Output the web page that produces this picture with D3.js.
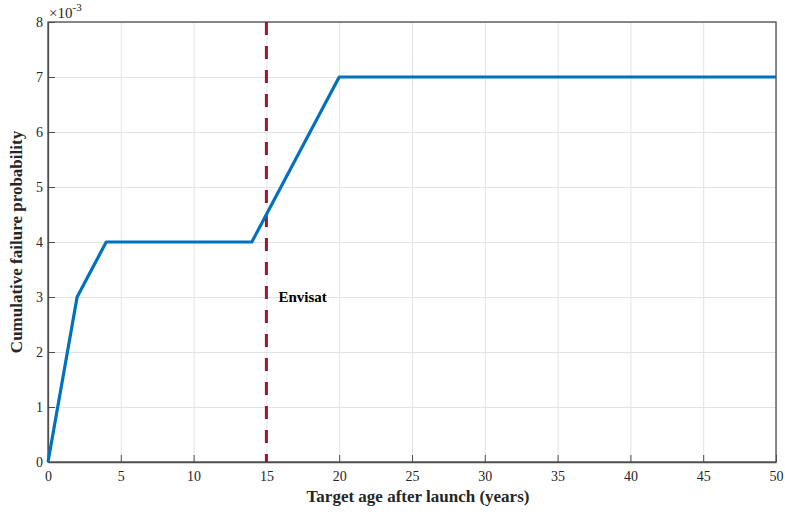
<!DOCTYPE html>
<html>
<head>
<meta charset="utf-8">
<script src="https://cdn.jsdelivr.net/npm/d3@7"></script>
<style>
  body { margin: 0; background: #fff; }
  svg text { font-family: "Liberation Serif", "Times New Roman", serif; fill: #262626; }
  .grid line { stroke: #e3e3e3; stroke-width: 1; }
  .grid path { display: none; }
  .axis path, .axis line { stroke: #4d4d4d; }
  .axis text { font-size: 14px; }
</style>
</head>
<body>
<svg id="chart"></svg>
<script>
// failure curve (age in years, probability x 1e-3)
const ages = [0, 2, 4, 14, 20, 50];
const probs = [0, 3, 4, 4, 7, 7];
const envisat_age = 15;
const x_ticks = [0, 5, 10, 15, 20, 25, 30, 35, 40, 45, 50];
const y_ticks = [0, 1, 2, 3, 4, 5, 6, 7, 8];

const width = 785, height = 514;
const margin = { top: 22, right: 9, bottom: 52, left: 48 };

const svg = d3.select("#chart").attr("width", width).attr("height", height);

const x = d3.scaleLinear().domain([0, 50]).range([margin.left, width - margin.right]);
const y = d3.scaleLinear().domain([0, 8]).range([height - margin.bottom, margin.top]);

// grid lines
svg.append("g")
  .attr("class", "grid")
  .attr("transform", "translate(0," + (height - margin.bottom) + ")")
  .call(d3.axisBottom(x).tickValues(x_ticks).tickSize(-(height - margin.top - margin.bottom)).tickFormat(""));

svg.append("g")
  .attr("class", "grid")
  .attr("transform", "translate(" + margin.left + ",0)")
  .call(d3.axisLeft(y).tickValues(y_ticks).tickSize(-(width - margin.left - margin.right)).tickFormat(""));

// box
svg.append("rect")
  .attr("x", margin.left)
  .attr("y", margin.top)
  .attr("width", width - margin.left - margin.right)
  .attr("height", height - margin.top - margin.bottom)
  .attr("fill", "none")
  .attr("stroke", "#4d4d4d")
  .attr("stroke-width", 1.3);

// x axis, ticks inside
const x_axis = svg.append("g")
  .attr("class", "axis")
  .attr("transform", "translate(0," + (height - margin.bottom) + ")")
  .call(d3.axisBottom(x).tickValues(x_ticks).tickSize(-7).tickSizeOuter(0));
x_axis.select(".domain").attr("stroke-width", 1.3);
x_axis.selectAll("text").attr("dy", "0.71em").attr("y", 9);

// y axis
const y_axis = svg.append("g")
  .attr("class", "axis")
  .attr("transform", "translate(" + margin.left + ",0)")
  .call(d3.axisLeft(y).tickValues(y_ticks).tickSize(-7).tickSizeOuter(0));
y_axis.select(".domain").attr("stroke-width", 1.3);
y_axis.selectAll("text").attr("x", -5);

// exponent label
const expo = svg.append("text")
  .attr("x", margin.left + 1)
  .attr("y", margin.top - 4)
  .style("font-size", "15px");
expo.append("tspan").text("\u00d710");
expo.append("tspan").attr("dy", -7).style("font-size", "11px").text("-3");

// envisat marker
svg.append("line")
  .attr("x1", x(envisat_age))
  .attr("x2", x(envisat_age))
  .attr("y1", y(8))
  .attr("y2", y(0))
  .attr("stroke", "#A2142F")
  .attr("stroke-width", 3)
  .attr("stroke-dasharray", "13,11");

svg.append("text")
  .attr("x", x(envisat_age) + 12)
  .attr("y", y(3) + 5)
  .style("font-size", "15px")
  .style("font-weight", "bold")
  .style("fill", "#000")
  .text("Envisat");

// failure curve
const pts = ages.map((a, i) => [x(a), y(probs[i])]);
svg.append("path")
  .attr("d", d3.line()(pts))
  .attr("fill", "none")
  .attr("stroke", "#0072BD")
  .attr("stroke-width", 3.2)
  .attr("stroke-linejoin", "round");

// axis labels
svg.append("text")
  .attr("x", 418)
  .attr("y", 502)
  .attr("text-anchor", "middle")
  .style("font-size", "17px")
  .style("font-weight", "bold")
  .text("Target age after launch (years)");

svg.append("text")
  .attr("transform", "translate(22," + ((margin.top + height - margin.bottom) / 2) + ") rotate(-90)")
  .attr("text-anchor", "middle")
  .style("font-size", "17px")
  .style("font-weight", "bold")
  .text("Cumulative failure probability");
</script>
</body>
</html>
